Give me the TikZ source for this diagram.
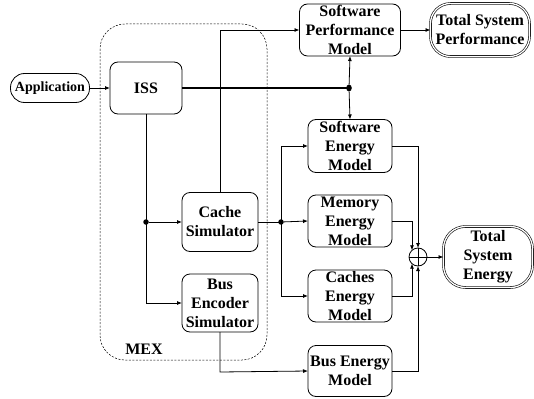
\documentclass[tikz,border=0pt]{standalone}
\usepackage{fontspec}
\setmainfont{Liberation Serif}
\usetikzlibrary{arrows.meta,shapes.geometric}
\begin{document}
\begin{tikzpicture}[x=1pt,y=-1pt,
  font=\bfseries\fontsize{16}{19}\selectfont,
  box/.style={draw, line width=0.8pt, rounded corners=8pt, inner sep=0pt, outer sep=0pt, align=center},
  pill/.style={draw, line width=0.8pt, inner sep=0pt, outer sep=0pt, align=center},
  dbl/.style={draw, double, double distance=1.3pt, line width=0.6pt, inner sep=0pt, outer sep=0pt, align=center},
  conn/.style={line width=0.8pt},
  arr/.style={conn, -{Latex[length=5pt,width=4pt]}},
  dot/.style={circle, fill, inner sep=0pt, minimum size=5.5pt},
]
\useasboundingbox (0,0) rectangle (534,398);

% MEX container
\draw[dash pattern=on 2pt off 1.5pt, line width=0.5pt, rounded corners=25pt] (100,24) rectangle (267,360);
\node (mex) at (144,349) {MEX};

% Nodes
\node[pill, rounded corners=14pt, minimum width=79pt, minimum height=29pt, font=\bfseries\fontsize{14}{17}\selectfont] (app) at (50,88) {Application};
\node[box, minimum width=72pt, minimum height=52pt] (iss) at (146,88) {ISS};
\node[box, minimum width=76pt, minimum height=59pt] (cache) at (220,222) {Cache\\Simulator};
\node[box, minimum width=76pt, minimum height=58pt] (bus) at (220,303) {Bus\\Encoder\\Simulator};
\node[box, minimum width=101pt, minimum height=52pt] (spm) at (350,30) {Software\\Performance\\Model};
\node[dbl, rounded corners=20pt, minimum width=99pt, minimum height=53pt] (tsp) at (480,30) {Total System\\Performance};
\node[box, minimum width=84pt, minimum height=53pt] (sem) at (350,146) {Software\\Energy\\Model};
\node[box, minimum width=84pt, minimum height=52pt] (mem) at (350,221) {Memory\\Energy\\Model};
\node[box, minimum width=84pt, minimum height=52pt] (cem) at (350,296) {Caches\\Energy\\Model};
\node[box, minimum width=84pt, minimum height=51pt] (bem) at (350,371) {Bus Energy\\Model};
\node[dbl, rounded corners=22pt, minimum width=89pt, minimum height=61pt] (tse) at (488,257) {Total\\System\\Energy};
\node[draw, circle, line width=0.8pt, inner sep=0pt, outer sep=0pt, minimum size=18pt] (add) at (418,257) {};
\draw[conn] (add.north) -- (add.south) (add.west) -- (add.east);

% Junctions
\node[dot] (j1) at (146,222) {};
\node[ellipse, fill, inner sep=0pt, minimum width=5.5pt, minimum height=7pt] (j2) at (349,88) {};
\node[dot] (j3) at (281,222) {};
\coordinate (c1) at (146,303);
\coordinate (c2) at (220,30);
\coordinate (c3) at (220,372);

% Connectors
\draw[arr] (app) -- (iss);
\draw[conn, line width=1.4pt] (iss.east) -- (j2.center);
\draw[arr] (j2) -- (spm.south);
\draw[arr] (j2) -- (sem.north);
\draw[conn] (iss.south) -- (j1.center);
\draw[arr] (j1.center) -- (c1) -- (bus.west);
\draw[arr] (j1) -- (cache.west);
\draw[arr] (cache.north) -- (c2) -- (spm.west);
\draw[arr] (spm) -- (tsp);
\draw[conn] (cache.east) -- (j3.center);
\draw[arr] (j3) -- (mem.west);
\draw[arr] (j3.center) |- (sem.west);
\draw[arr] (j3.center) |- (cem.west);
\draw[arr] (bus.south) -- (c3) -- (bem.west);
\draw[arr] (sem.east) -| (add.north);
\draw[arr] (mem.east) -| (add.132);
\draw[arr] (cem.east) -| (add.228);
\draw[arr] (bem.east) -| (add.south);
\draw[arr] (add.east) -- (tse.west);
\end{tikzpicture}
\end{document}
